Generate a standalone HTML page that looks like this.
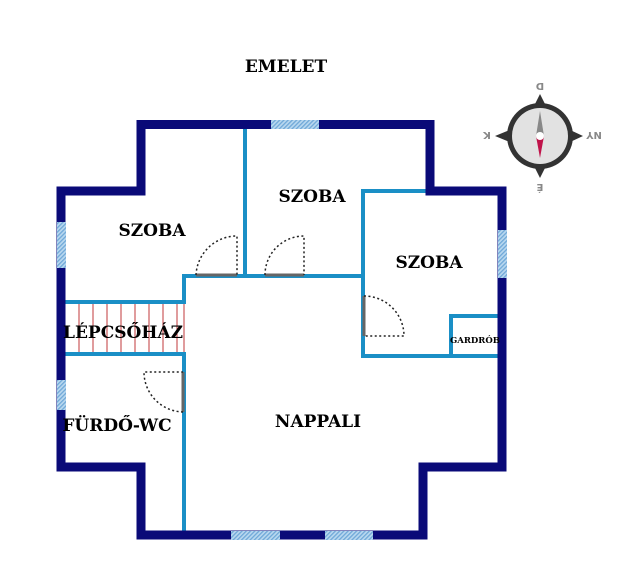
<!DOCTYPE html>
<html><head><style>body{margin:0;background:#fff}svg{display:block}</style></head>
<body>
<svg width="640" height="582" viewBox="0 0 640 582" xmlns="http://www.w3.org/2000/svg" font-family="DejaVu Serif, serif" font-weight="bold">
<defs>
<pattern id="h" width="3" height="3" patternUnits="userSpaceOnUse" patternTransform="rotate(45)">
<rect width="3" height="3" fill="#b9d8ef"/><rect width="1.3" height="3" fill="#6fa8d8"/></pattern>
</defs>
<text x="286" y="72" font-size="17" text-anchor="middle">EMELET</text>
<!-- stairs -->
<g stroke="#c0393b" stroke-width="1">
<line x1="79" y1="302" x2="79" y2="354"/><line x1="93" y1="302" x2="93" y2="354"/><line x1="107" y1="302" x2="107" y2="354"/><line x1="121" y1="302" x2="121" y2="354"/><line x1="135" y1="302" x2="135" y2="354"/><line x1="149" y1="302" x2="149" y2="354"/><line x1="163" y1="302" x2="163" y2="354"/><line x1="177" y1="302" x2="177" y2="354"/><line x1="184" y1="302" x2="184" y2="354"/>
</g>
<!-- inner walls -->
<g stroke="#1a8fc6" stroke-width="4" fill="none">
<line x1="245" y1="125" x2="245" y2="276"/>
<polyline points="362,276 184,276 184,302"/>
<line x1="184" y1="354" x2="184" y2="532"/>
<line x1="62" y1="302" x2="186" y2="302"/>
<line x1="62" y1="354" x2="186" y2="354"/>
<polyline points="430,191 363,191 363,356 500,356"/>
<polyline points="451,356 451,316 500,316"/>
</g>
<!-- outer wall -->
<polygon points="141,124.5 430,124.5 430,191 502,191 502,467 423,467 423,535 141,535 141,467 61,467 61,191 141,191" fill="none" stroke="#0a0a78" stroke-width="9" stroke-linejoin="miter"/>
<!-- windows -->
<rect x="271" y="120" width="48" height="9" fill="url(#h)"/>
<rect x="231" y="531" width="49" height="9" fill="url(#h)"/>
<rect x="325" y="531" width="48" height="9" fill="url(#h)"/>
<rect x="57" y="222" width="9" height="46" fill="url(#h)"/>
<rect x="57" y="380" width="9" height="30" fill="url(#h)"/>
<rect x="498" y="230" width="9" height="48" fill="url(#h)"/>
<!-- doors -->
<g stroke="#666" stroke-width="3">
<line x1="196" y1="275" x2="237" y2="275"/>
<line x1="265" y1="275" x2="304" y2="275"/>
<line x1="364" y1="296" x2="364" y2="336"/>
<line x1="183" y1="372" x2="183" y2="412"/>
</g>
<g stroke="#222" stroke-width="1.5" stroke-dasharray="2,2.5" fill="none">
<path d="M196,275 A41,41 0 0 1 237,236 L237,275"/>
<path d="M265,275 A39,39 0 0 1 304,236 L304,275"/>
<path d="M364,296 A40,40 0 0 1 404,336 L364,336"/>
<path d="M183,412 A40,40 0 0 1 144,372 L183,372"/>
</g>
<!-- labels -->
<g font-size="17" text-anchor="middle">
<text x="152" y="236">SZOBA</text>
<text x="312" y="202">SZOBA</text>
<text x="429" y="268">SZOBA</text>
<text x="123" y="338" textLength="120" lengthAdjust="spacingAndGlyphs">LÉPCSŐHÁZ</text>
<text x="117" y="431">FÜRDŐ-WC</text>
<text x="318" y="427">NAPPALI</text>
</g>
<text x="475" y="343" font-size="8.5" text-anchor="middle">GARDRÓB</text>
<!-- compass -->
<g transform="translate(540,136)">
<polygon points="0,-42 8,-26 -8,-26" fill="#333"/>
<polygon points="0,42 8,26 -8,26" fill="#333"/>
<polygon points="-45,0 -28,-7 -28,7" fill="#333"/>
<polygon points="43,0 28,-7 28,7" fill="#333"/>
<circle r="33" fill="#333"/>
<circle r="28" fill="#e2e2e2"/>
<polygon points="0,-25 -4,0 4,0" fill="#888"/>
<polygon points="0,22 -4,0 4,0" fill="#c0134a"/>
<circle r="4" fill="#fff"/>
<g font-family="DejaVu Sans, sans-serif" font-weight="bold" font-size="10" fill="#888" text-anchor="middle">
<text x="0" y="-45" transform="rotate(180 0 -49)">D</text>
<text x="0" y="56" transform="rotate(180 0 52)">É</text>
<text x="-53" y="4" transform="rotate(180 -53 0)">K</text>
<text x="54" y="4" transform="rotate(180 54 0)">NY</text>
</g>
</g>
</svg>
</body></html>
